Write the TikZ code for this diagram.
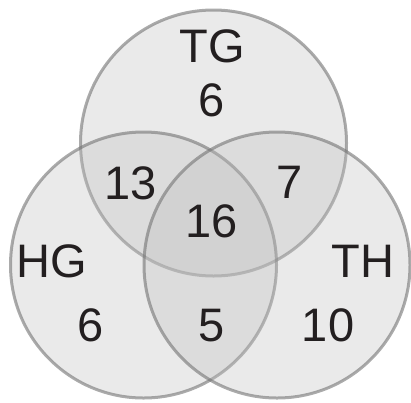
\documentclass[tikz,border=0pt]{standalone}
\usepackage{fontspec}
\setmainfont{Liberation Sans}
\definecolor{txt}{HTML}{231F20}
\tikzset{
  setcirc/.style={circle, minimum size=266pt, inner sep=0pt, line width=3pt,
    draw=black!55, draw opacity=0.6, fill=black!25, fill opacity=0.33, text opacity=1},
  lbl/.style={font=\fontsize{47}{50}\selectfont, text=txt, inner sep=0pt, anchor=center}
}
\begin{document}
\begin{tikzpicture}[x=1pt,y=-1pt]
\useasboundingbox (0,0) rectangle (411,402);
\node[setcirc] (ctg) at (213.5,143) {};
\node[setcirc] (chg) at (143.5,265) {};
\node[setcirc] (cth) at (277,265) {};
\node[lbl] (tg) at (212,46) {TG};
\node[lbl] (ntg) at (212,100) {6};
\node[lbl] (n13) at (131,183) {13};
\node[lbl] (n7) at (290,182) {7};
\node[lbl] (n16) at (212,221) {16};
\node[lbl] (hg) at (52,261) {HG};
\node[lbl] (th) at (363,261) {TH};
\node[lbl] (nhg) at (91,325) {6};
\node[lbl] (n5) at (212,326) {5};
\node[lbl] (nth) at (328,325) {10};
\end{tikzpicture}
\end{document}
